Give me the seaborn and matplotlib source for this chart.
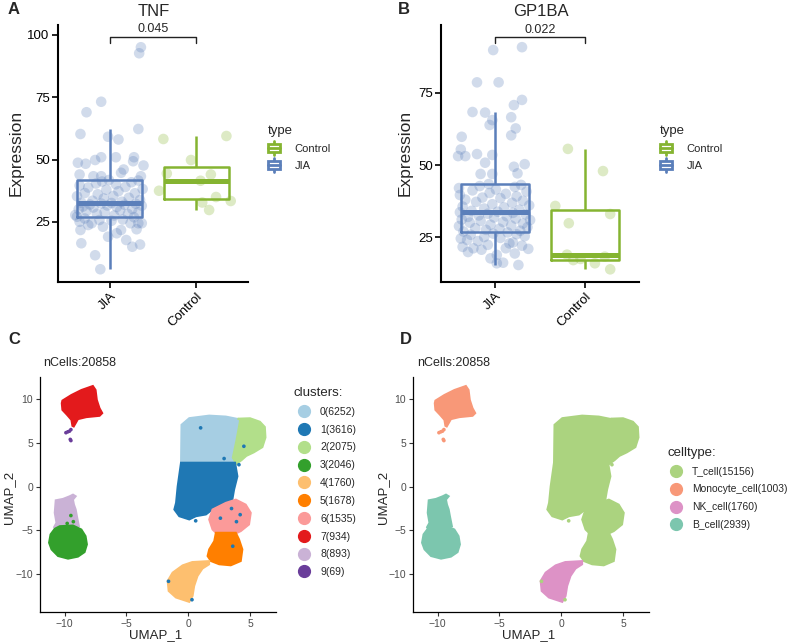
import pandas as pd
import matplotlib
matplotlib.use("Agg")
import matplotlib.pyplot as plt
from matplotlib.legend_handler import HandlerBase
from matplotlib.patches import Rectangle, Patch
from matplotlib.lines import Line2D
import seaborn as sns

# ── Data: expression panels ────────────────────────────────────────────────
groups = ['JIA', 'Control']

tnf_jia = [6.1, 11.7, 15.1, 16.0, 16.5, 17.8, 19.1, 20.5, 21.8, 21.8, 22.1, 23.1, 23.8,
           24.5, 24.5, 24.5, 24.5, 25.1, 25.5, 25.8, 26.0, 26.4,
           26.9,
           27.1, 27.6, 27.8, 28.2, 28.3, 28.9, 29.0, 29.4, 29.7, 30.1, 30.2, 30.8, 31.0,
           31.2, 31.5, 31.6, 31.9, 32.0, 32.3, 32.4, 32.6,
           32.7,
           33.1, 33.5, 33.8, 34.4, 34.7, 35.3, 35.4, 36.1, 36.5, 36.6, 37.3, 37.9, 38.2,
           38.8, 39.0, 39.6, 40.1, 40.4, 40.9, 41.2, 41.6,
           41.8,
           43.3, 43.3, 43.3, 44.0, 44.7, 46.0, 47.6, 48.3, 48.7, 49.3, 49.8, 50.9, 50.9,
           50.9, 58.0, 59.1, 60.2, 62.2, 68.9, 73.1, 92.5, 94.9]
tnf_jia_jit = [-0.11, -0.17, 0.26, 0.35, -0.33, 0.19, -0.02, 0.08, 0.13, -0.34, 0.31, -0.08, -0.25,
               -0.21, 0.24, 0.33, 0.37, -0.35, 0.02, -0.12, 0.15, -0.29,
               0.28,
               -0.38, 0.05, -0.40, 0.21, -0.15, 0.33, -0.06, -0.27, 0.12, -0.36, 0.26, -0.19, 0.08,
               -0.31, 0.37, -0.03, 0.17, -0.23, 0.30, -0.10, 0.02,
               -0.33,
               0.14, -0.20, 0.35, -0.07, 0.22, -0.38, 0.04, -0.14, 0.29, -0.29, 0.10, -0.04, 0.38,
               -0.25, 0.18, -0.35, 0.07, -0.16, 0.25, -0.09, 0.33,
               -0.01,
               -0.19, -0.10, 0.36, -0.35, 0.13, 0.16, 0.39, -0.28, -0.37, 0.27, -0.17, -0.10, 0.07,
               0.28, 0.10, -0.02, -0.34, 0.33, -0.27, -0.10, 0.34, 0.36]
tnf_ctl = [59.4, 58.2, 49.8, 44.4, 44.0, 41.5, 37.5, 35.0, 33.4, 32.8, 29.8]
tnf_ctl_jit = [0.35, -0.38, -0.06, -0.34, 0.17, 0.05, -0.43, 0.23, 0.40, 0.07, 0.15]

gp_jia = [15.3, 15.9, 16.1, 17.6, 18.8, 19.3, 19.8, 20.6, 20.9, 21.1, 21.1, 21.6, 22.0,
          22.3, 22.8, 23.1, 23.6, 24.0, 24.5, 24.7, 25.0, 25.3, 25.8, 26.0, 26.2,
          26.6,
          26.9, 27.2, 27.5, 27.9, 28.1, 28.4, 28.8, 29.0, 29.3, 29.7, 30.0, 30.2, 30.6,
          30.9, 31.1, 31.4, 31.8, 32.0, 32.2, 32.5, 32.9, 33.1, 33.4, 33.6,
          33.8,
          34.1, 34.5, 34.9, 35.3, 35.6, 36.0, 36.4, 36.9, 37.2, 37.6, 38.0, 38.5, 38.7,
          39.1, 39.6, 40.0, 40.3, 40.8, 41.2, 41.5, 42.0, 42.4, 42.7, 43.1,
          43.4,
          46.9, 46.9, 47.1, 49.4, 50.3, 50.8, 53.1, 53.1, 53.5, 53.8, 55.4, 59.8, 60.3,
          62.7, 63.9, 65.6, 66.6, 68.2, 68.4, 70.8, 72.6, 78.7, 78.7, 89.9, 90.9]
gp_jia_jit = [0.26, 0.02, 0.09, -0.05, 0.02, 0.22, -0.30, -0.15, 0.37, -0.24, 0.12, -0.36, 0.30,
              -0.08, 0.16, 0.20, -0.19, -0.31, -0.38, 0.06, -0.12, 0.33, -0.27, 0.24, -0.02,
              0.14,
              -0.35, 0.28, -0.10, 0.05, -0.22, 0.36, -0.40, 0.18, -0.05, 0.31, -0.28, 0.09, -0.16,
              0.39, -0.37, 0.23, -0.01, -0.30, 0.13, -0.18, 0.34, -0.08, 0.20, -0.39,
              0.03,
              -0.26, 0.27, -0.12, 0.10, -0.36, 0.38, -0.03, 0.19, -0.21, 0.31, -0.33, 0.06, -0.14,
              0.24, -0.39, 0.12, -0.06, 0.35, -0.25, 0.01, -0.40, 0.22, -0.17, 0.29,
              -0.07,
              -0.16, -0.03, 0.25, 0.21, 0.33, -0.11, -0.41, -0.33, -0.03, -0.20, -0.38, -0.37, 0.18,
              0.23, -0.06, -0.03, 0.18, -0.11, -0.25, 0.21, 0.30, -0.20, 0.04, -0.02, 0.30]
gp_ctl = [13.8, 15.9, 17.0, 17.4, 18.2, 18.9, 29.8, 33.0, 35.8, 47.9, 55.6]
gp_ctl_jit = [0.28, 0.11, -0.13, -0.05, 0.22, -0.20, -0.18, 0.28, -0.33, 0.20, -0.19]

# ── Data: UMAP cluster outlines (UMAP_1, UMAP_2) ───────────────────────────
c0_x = [-0.59, -0.55, 0.08, 1.69, 3.04, 4.38, 3.95, 3.55, 3.79, -0.59]
c0_y = [2.50, 7.05, 7.81, 8.10, 7.99, 7.61, 5.34, 3.52, 2.69, 2.50]
c1_x = [-0.59, 3.79, 3.98, 3.71, 3.57, 3.04, 1.96, 1.43, 0.62, 0.08, -0.73, -1.13, -0.99, -0.86]
c1_y = [2.73, 2.73, 1.17, -0.34, -1.48, -1.85, -2.61, -3.18, -3.38, -3.75, -3.38, -2.61, -1.85, 0.03]
c2_x = [4.00, 5.00, 5.80, 6.20, 6.25, 6.00, 5.30, 4.70, 4.30, 3.90, 3.60, 3.90, 4.20]
c2_y = [7.75, 7.80, 7.40, 6.80, 5.60, 4.50, 3.90, 3.50, 3.00, 2.60, 3.30, 5.30, 7.60]
c3_x = [-10.40, -9.33, -8.65, -8.31, -8.20, -8.39, -8.93, -9.73, -10.54, -11.07, -11.27, -11.15, -10.81]
c3_y = [-4.51, -4.43, -4.89, -5.65, -6.59, -7.47, -7.99, -8.22, -7.92, -7.16, -6.40, -5.45, -4.81]
c4_x = [1.69, 0.32, -0.46, -1.27, -1.67, -1.59, -1.00, 0.08, 0.35, 0.48, 0.75, 1.15, 1.69]
c4_y = [-8.49, -8.60, -8.98, -9.81, -10.76, -11.90, -12.65, -13.15, -12.47, -11.33, -10.19, -9.35, -8.86]
c5_x = [2.23, 3.85, 4.11, 4.38, 4.25, 3.44, 2.50, 1.83, 1.56, 1.69, 2.10]
c5_y = [-5.26, -5.26, -6.02, -7.16, -8.49, -8.98, -8.86, -8.49, -7.92, -7.16, -6.22]
c6_x = [1.96, 3.04, 3.85, 4.65, 5.06, 4.92, 4.25, 3.85, 2.23, 1.96, 1.69]
c6_y = [-2.61, -1.85, -1.48, -2.05, -2.99, -4.32, -5.08, -5.34, -5.26, -4.89, -3.75]
c7_x = [-10.19, -9.46, -8.65, -7.72, -7.50, -7.40, -7.18, -6.96, -7.18, -8.25, -8.93, -9.11,
        -9.27, -9.38, -9.46, -9.81, -10.19, -10.24]
c7_y = [9.81, 10.45, 11.02, 11.48, 11.02, 9.89, 8.94, 8.38, 8.07, 7.92, 7.69, 7.24,
        6.85, 6.93, 7.61, 8.18, 8.75, 9.51]
c8_x = [-10.73, -10.14, -9.60, -9.33, -9.11, -9.33, -9.25, -9.11, -9.01, -8.85, -10.89, -10.67, -10.81]
c8_y = [-1.56, -1.40, -1.10, -0.91, -1.10, -1.48, -2.05, -2.61, -3.38, -4.51, -4.69, -4.13, -2.99]

# scattered single cells away from their cluster body
stray_x = [-9.90, -9.75, -9.62, -9.50, -9.55, -9.50, 3.5, 4.2, 2.6, 3.9, 4.5, 2.9, 1.0, 3.6,
           -1.6, 0.3, 0.6, 4.1, -9.8, -9.3, -9.5]
stray_y = [6.15, 6.25, 6.32, 6.50, 5.38, 5.25, -2.5, -3.2, -3.6, -4.0, 4.6, 3.2, 6.7, -6.8,
           -10.8, -12.9, -3.9, 2.5, -4.2, -4.0, -3.3]
stray_cl = [9, 9, 9, 9, 9, 9, 1, 1, 1, 1, 1, 1, 1, 1, 1, 1, 1, 1, 3, 3, 3]

cluster_labels = ['0(6252)', '1(3616)', '2(2075)', '3(2046)', '4(1760)',
                  '5(1678)', '6(1535)', '7(934)', '8(893)', '9(69)']
cluster_colors = ['#A6CEE3', '#1F78B4', '#B2DF8A', '#33A02C', '#FDBF6F',
                  '#FF7F00', '#FB9A99', '#E31A1C', '#CAB2D6', '#6A3D9A']
celltype_labels = ['T_cell(15156)', 'Monocyte_cell(1003)', 'NK_cell(1760)', 'B_cell(2939)']
celltype_colors = ['#ABD37F', '#F89878', '#DD92C6', '#7CC6AE']
cluster_to_type = [0, 0, 0, 3, 2, 0, 0, 1, 3, 1]

polys = [(c0_x, c0_y), (c1_x, c1_y), (c2_x, c2_y), (c3_x, c3_y), (c4_x, c4_y),
         (c5_x, c5_y), (c6_x, c6_y), (c7_x, c7_y), (c8_x, c8_y)]
draw_order = [8, 3, 7, 0, 2, 1, 6, 5, 4]

# ── Setup ─────────────────────────────────────────────────────────────────────
sns.set_style("ticks")
plt.rcParams['font.family'] = ['Liberation Sans', 'DejaVu Sans']

W, H = 790, 644
def fx(px): return px / W
def fy(py): return 1 - py / H
def rect(l, t, r, b): return [fx(l), fy(b), (r - l) / W, (b - t) / H]

BLUE, GREEN = '#5B7FBA', '#85B431'
pal = {'JIA': BLUE, 'Control': GREEN}

fig = plt.figure(figsize=(7.9, 6.44), dpi=100)


class BoxKey(HandlerBase):
    # ggplot-style boxplot legend glyph
    def create_artists(self, legend, orig_handle, xdescent, ydescent, width, height, fontsize, trans):
        c = orig_handle.get_edgecolor()
        x0, y0 = -xdescent, -ydescent
        cx = x0 + width / 2
        box = Rectangle((x0, y0 + 0.2 * height), width, 0.6 * height,
                        fc='white', ec=c, lw=2.0, transform=trans)
        med = Line2D([x0, x0 + width], [y0 + 0.5 * height] * 2, color=c, lw=2.0, transform=trans)
        w1 = Line2D([cx, cx], [y0 - 0.05 * height, y0 + 0.2 * height], color=c, lw=2.0, transform=trans)
        w2 = Line2D([cx, cx], [y0 + 0.8 * height, y0 + 1.05 * height], color=c, lw=2.0, transform=trans)
        return [w1, w2, box, med]


def expr_panel(pos, jia, jia_jit, ctl, ctl_jit, title, title_x, pval, br_y, br_drop, pval_y,
               ylim, yticks, leg_x, ylab_x):
    ax = fig.add_axes(pos)
    df = pd.DataFrame({'type': ['JIA'] * len(jia) + ['Control'] * len(ctl),
                       'expr': jia + ctl,
                       'xpos': [j for j in jia_jit] + [1 + j for j in ctl_jit]})
    sns.boxplot(data=df, x='type', y='expr', hue='type', order=groups, palette=pal,
                fill=False, width=0.75, linewidth=1.8, showfliers=False, showcaps=False,
                medianprops={'linewidth': 3.6}, legend=False, ax=ax)
    sns.scatterplot(data=df, x='xpos', y='expr', hue='type', palette=pal, alpha=0.28,
                    s=58, edgecolor='none', legend=False, ax=ax, zorder=1)
    ax.set_xlim(-0.6, 1.6)
    ax.set_ylim(*ylim)
    ax.set_yticks(yticks)
    ax.set_xticks([0, 1])
    ax.set_xticklabels(groups, rotation=45, ha='right', va='top', rotation_mode='anchor')
    ax.set_xlabel('')
    ax.set_ylabel('')
    sns.despine(ax=ax)
    for s in ['left', 'bottom']:
        ax.spines[s].set_linewidth(1.5)
        ax.spines[s].set_color('black')
    ax.tick_params(width=1.2, length=4, labelsize=9.5, colors='black', pad=2)

    ax.plot([0, 0, 1, 1], [br_drop, br_y, br_y, br_drop], color='#222222', lw=1.0, clip_on=False)
    ax.text(0.5, pval_y, pval, ha='center', va='center', fontsize=9)
    fig.text(fx(title_x), fy(11), title, ha='center', va='center', fontsize=12)
    fig.text(fx(ylab_x), fy(153), 'Expression', rotation=90, ha='center', va='center', fontsize=12.5)

    handles = [Patch(ec=GREEN, fc='white'), Patch(ec=BLUE, fc='white')]
    ax.legend(handles, ['Control', 'JIA'], handler_map={Patch: BoxKey()}, title='type',
              loc='upper left', bbox_to_anchor=(fx(leg_x), fy(125)),
              bbox_transform=fig.transFigure, frameon=False, fontsize=8,
              title_fontsize=9.5, alignment='left', borderpad=0, borderaxespad=0,
              handlelength=1.1, handleheight=1.4, handletextpad=1.3, labelspacing=0.4)
    return ax


def umap_panel(pos, colors, ncells_x, lab2_x):
    ax = fig.add_axes(pos)
    for k in draw_order:
        px, py = polys[k]
        ax.fill(px, py, color=colors[k], lw=1.4, ec=colors[k], zorder=2)
    sdf = pd.DataFrame({'x': stray_x, 'y': stray_y, 'cl': [str(c) for c in stray_cl]})
    spal = {str(c): colors[c] for c in set(stray_cl)}
    sns.scatterplot(data=sdf, x='x', y='y', hue='cl', palette=spal, s=7, edgecolor='none',
                    legend=False, ax=ax, zorder=3)
    ax.set_xlim(-12.0, 7.1)
    ax.set_ylim(-14.3, 12.5)
    ax.set_xticks([-10, -5, 0, 5])
    ax.set_yticks([-10, -5, 0, 5, 10])
    ax.set_xlabel('')
    ax.set_ylabel('')
    sns.despine(ax=ax)
    for s in ['left', 'bottom']:
        ax.spines[s].set_linewidth(0.9)
        ax.spines[s].set_color('black')
    ax.tick_params(width=0.8, length=3, labelsize=7.5, labelcolor='#4D4D4D', color='#333333', pad=2)

    left_px = pos[0] * W
    right_px = left_px + pos[2] * W
    fig.text(fx(ncells_x), fy(363), 'nCells:20858', ha='left', va='center', fontsize=9)
    fig.text(fx((left_px + right_px) / 2 - 2), fy(635), 'UMAP_1',
             ha='center', va='center', fontsize=9.5)
    fig.text(fx(lab2_x), fy(497), 'UMAP_2', rotation=90, ha='center', va='center', fontsize=9.5)
    return ax


# ── Panels A / B ──────────────────────────────────────────────────────────────
expr_panel(rect(58, 25, 248, 282), tnf_jia, tnf_jia_jit, tnf_ctl, tnf_ctl_jit, 'TNF', 154,
           '0.045', 99.1, 96.5, 102.3, (1.0, 103.8), [25, 50, 75, 100], 268, 16)
expr_panel(rect(441, 25, 639, 282), gp_jia, gp_jia_jit, gp_ctl, gp_ctl_jit, 'GP1BA', 541,
           '0.022', 94.5, 92.2, 97.0, (9.4, 98.6), [25, 50, 75], 660, 405)

# ── Panel C ───────────────────────────────────────────────────────────────────
axc = umap_panel(rect(40, 377, 276, 612), cluster_colors, 43, 9)
hc = [Line2D([0], [0], marker='o', ls='', ms=8.5, color=c) for c in cluster_colors]
axc.legend(hc, cluster_labels, title='clusters:', loc='upper left',
           bbox_to_anchor=(fx(294), fy(387)), bbox_transform=fig.transFigure,
           frameon=False, fontsize=7.5, title_fontsize=9.5, alignment='left',
           borderpad=0, borderaxespad=0, handlelength=2.0, handletextpad=0.5, labelspacing=0.75)

# ── Panel D ───────────────────────────────────────────────────────────────────
type_colors = [celltype_colors[t] for t in cluster_to_type]
axd = umap_panel(rect(413, 377, 649, 612), type_colors, 417, 383)
hd = [Line2D([0], [0], marker='o', ls='', ms=8.5, color=c) for c in celltype_colors]
axd.legend(hd, celltype_labels, title='celltype:', loc='upper left',
           bbox_to_anchor=(fx(667), fy(447)), bbox_transform=fig.transFigure,
           frameon=False, fontsize=7.4, title_fontsize=9.5, alignment='left',
           borderpad=0, borderaxespad=0, handlelength=1.7, handletextpad=0.7, labelspacing=0.75)

# ── Panel letters ─────────────────────────────────────────────────────────────
for letter, x, y in [('A', 14, 10), ('B', 404, 10), ('C', 14, 340), ('D', 406, 340)]:
    fig.text(fx(x), fy(y), letter, ha='center', va='center', fontsize=12, fontweight='bold')

plt.savefig('out.png', dpi=100)
plt.close()
